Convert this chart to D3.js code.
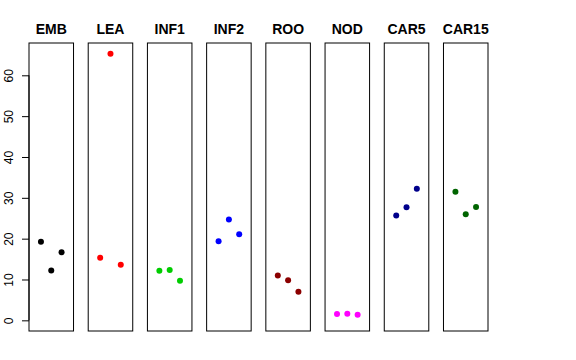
<!DOCTYPE html>
<html>
<head>
<meta charset="utf-8">
<script src="https://cdn.jsdelivr.net/npm/d3@7"></script>
<style>
  body { margin: 0; background: #fff; }
  svg { display: block; font-family: "Liberation Sans", Arial, Helvetica, sans-serif; }
</style>
</head>
<body>
<div id="chart"></div>
<script>
// tissues and their three replicate values
const tissues = ["EMB", "LEA", "INF1", "INF2", "ROO", "NOD", "CAR5", "CAR15"];
const colors = ["#000000", "#FF0000", "#00CD00", "#0000FF", "#8B0000", "#FF00FF", "#00008B", "#006400"];
const emb = [19.25, 12.2, 16.65];
const lea = [15.3, 65.3, 13.6];
const inf1 = [12.15, 12.3, 9.7];
const inf2 = [19.35, 24.7, 21.1];
const roo = [11.0, 9.8, 7.0];
const nod = [1.54, 1.6, 1.37];
const car5 = [25.7, 27.7, 32.2];
const car15 = [31.5, 26.0, 27.75];
const values = [emb, lea, inf1, inf2, roo, nod, car5, car15];
const yTicks = [0, 10, 20, 30, 40, 50, 60];

const width = 576, height = 360;
const plotTop = 43, plotBottom = 331;

const svg = d3.select("#chart").append("svg")
  .attr("width", width)
  .attr("height", height);

// shared y scale, R-style 4% padding around [0, max]
const ymax = d3.max(values.flat());
const pad = 0.04 * ymax;
const y = d3.scaleLinear()
  .domain([0 - pad, ymax + pad])
  .range([plotBottom, plotTop]);

const panel = d3.scaleBand()
  .domain(tissues)
  .range([29, 488])
  .paddingInner(0.248);

tissues.forEach((t, i) => {
  const x0 = panel(t);
  const x = d3.scaleLinear()
    .domain([-0.16, 4.16])
    .range([x0, x0 + panel.bandwidth()]);

  const g = svg.append("g");

  g.append("rect")
    .attr("x", x0)
    .attr("y", plotTop)
    .attr("width", panel.bandwidth())
    .attr("height", plotBottom - plotTop)
    .attr("fill", "none")
    .attr("stroke", "#000")
    .attr("stroke-width", 1);

  g.selectAll("circle")
    .data(values[i])
    .join("circle")
    .attr("cx", (d, j) => x(j + 1))
    .attr("cy", d => y(d))
    .attr("r", 3)
    .attr("fill", colors[i]);

  g.append("text")
    .attr("x", x0 + panel.bandwidth() / 2)
    .attr("y", 34)
    .attr("text-anchor", "middle")
    .style("font-size", "14px")
    .style("font-weight", "bold")
    .text(t);
});

// y axis on the first panel
const axis = svg.append("g")
  .attr("transform", `translate(${panel(tissues[0])},0)`)
  .call(d3.axisLeft(y).tickValues(yTicks).tickSize(7).tickSizeOuter(0).tickPadding(0));

axis.select(".domain")
  .attr("d", `M0,${y(yTicks[0])}V${y(yTicks[yTicks.length - 1])}`)
  .attr("stroke", "#000");
axis.selectAll(".tick line").attr("stroke", "#000");
axis.selectAll(".tick text")
  .attr("x", null)
  .attr("dy", null)
  .attr("text-anchor", "middle")
  .attr("transform", "translate(-16,0) rotate(-90)")
  .attr("fill", "#000")
  .style("font-size", "12px")
  .style("font-family", "\"Liberation Sans\", Arial, sans-serif");
</script>
</body>
</html>
